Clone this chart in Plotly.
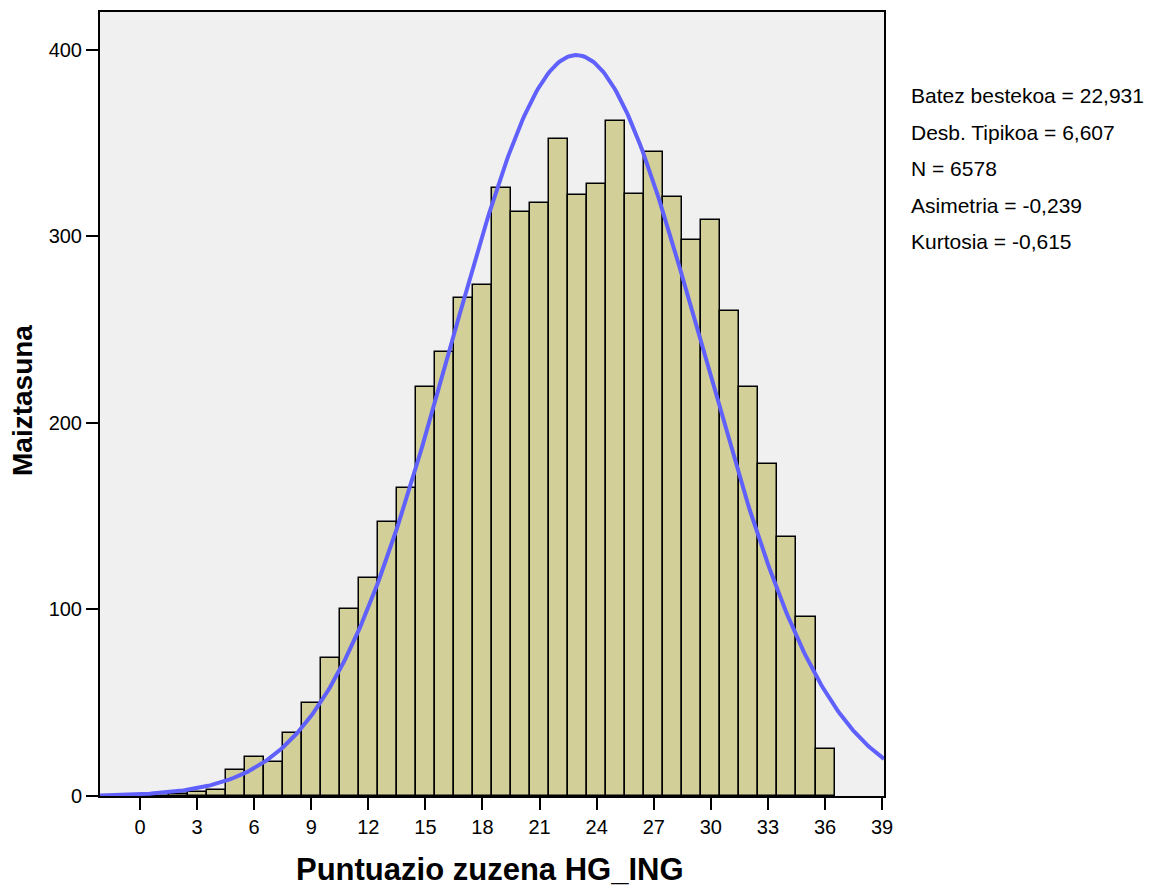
import numpy as np
import plotly.graph_objects as go

# -------------------------------------------------
# DATA
# -------------------------------------------------
scores = list(range(0, 37))
freqs = [0, 0, 1, 2, 3, 14, 21, 18, 34, 50, 74, 100, 117, 147, 165, 219, 238,
         267, 274, 326, 313, 318, 352, 322, 328, 362, 323, 345, 321, 298, 309,
         260, 219, 178, 139, 96, 25]

mean = 22.931
sd = 6.607
n = 6578

stat_lines = [
    "Batez bestekoa = 22,931",
    "Desb. Tipikoa = 6,607",
    "N = 6578",
    "Asimetria = -0,239",
    "Kurtosia = -0,615",
]

x_ticks = list(range(0, 40, 3))
y_ticks = [0, 100, 200, 300, 400]

# fitted normal curve (bin width = 1)
xc = np.linspace(-2.1, 39.1, 400)
yc = n / (sd * np.sqrt(2 * np.pi)) * np.exp(-0.5 * ((xc - mean) / sd) ** 2)

FONT = "Liberation Sans, Arial, sans-serif"
PLOT_W, PLOT_H = 784, 786

fig = go.Figure()

fig.add_trace(
    go.Bar(
        x=scores,
        y=freqs,
        width=1,
        marker=dict(color="#d3cf98", line=dict(color="black", width=1.5)),
        showlegend=False,
    )
)

fig.add_trace(
    go.Scatter(
        x=xc,
        y=yc,
        mode="lines",
        line=dict(color="#6060fc", width=4),
        showlegend=False,
    )
)

# stats box on the right
for i, txt in enumerate(stat_lines):
    fig.add_annotation(
        text=txt,
        xref="paper", yref="paper",
        x=(909 - 100) / PLOT_W, y=(796 - 94 - i * 36.6) / PLOT_H,
        xanchor="left", yanchor="middle",
        showarrow=False,
        font=dict(family=FONT, size=21, color="black"),
    )

# axis titles
fig.add_annotation(
    text="<b>Puntuazio zuzena HG_ING</b>",
    xref="paper", yref="paper",
    x=(490 - 100) / PLOT_W, y=-74 / PLOT_H,
    xanchor="center", yanchor="middle",
    showarrow=False,
    font=dict(family=FONT, size=31, color="black"),
)
fig.add_annotation(
    text="<b>Maiztasuna</b>",
    xref="paper", yref="paper",
    x=-78 / PLOT_W, y=(796 - 400) / PLOT_H,
    xanchor="center", yanchor="middle",
    textangle=-90,
    showarrow=False,
    font=dict(family=FONT, size=28, color="black"),
)

fig.update_layout(
    width=1147,
    height=885,
    paper_bgcolor="white",
    plot_bgcolor="#f0f0f0",
    margin=dict(l=92, r=271, t=2, b=97),
    font=dict(family=FONT, size=20, color="black"),
    bargap=0,
)

axis_style = dict(
    ticks="outside",
    ticklen=12,
    tickwidth=2,
    tickcolor="black",
    showgrid=False,
    zeroline=False,
    showline=True,
    linecolor="black",
    linewidth=2,
    mirror=True,
    tickfont=dict(family=FONT, size=20, color="black"),
)

fig.update_xaxes(range=[-2.1, 39.1], tickvals=x_ticks, **axis_style)
fig.update_yaxes(range=[0, 420.3], tickvals=y_ticks, **axis_style)

fig.write_html("out.html")
